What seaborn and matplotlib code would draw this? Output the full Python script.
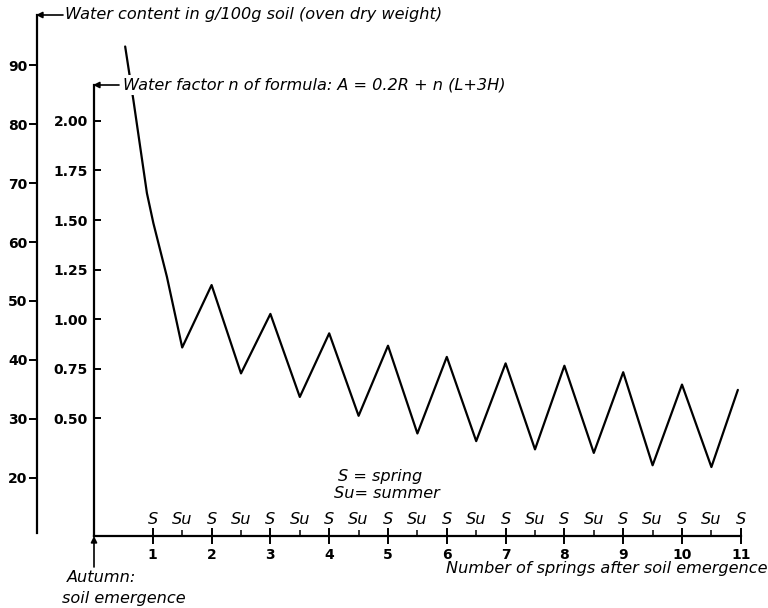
import matplotlib
matplotlib.use("Agg")
import matplotlib.pyplot as plt
import seaborn as sns
import pandas as pd
from matplotlib.transforms import blended_transform_factory

# Water content (g/100 g oven-dry soil) against time in years after soil emergence
season_time = [0.53, 0.67, 0.90, 1.01, 1.24, 1.5, 2.0, 2.5, 3.0, 3.5, 4.0, 4.5,
               5.0, 5.5, 6.0, 6.5, 7.0, 7.5, 8.0, 8.5, 9.0, 9.5, 10.0, 10.5, 10.95]
water_content = [93.2, 84.1, 68.3, 63.2, 54.1, 42.1, 52.7, 37.7, 47.8, 33.7, 44.5, 30.5,
                 42.4, 27.5, 40.5, 26.2, 39.4, 24.8, 39.0, 24.2, 37.9, 22.1, 35.8, 21.8, 34.9]

water_ticks = [20, 30, 40, 50, 60, 70, 80, 90]
factor_ticks = [0.50, 0.75, 1.00, 1.25, 1.50, 1.75, 2.00]
factor_labels = ["0.50", "0.75", "1.00", "1.25", "1.50", "1.75", "2.00"]
spring_ticks = [1, 2, 3, 4, 5, 6, 7, 8, 9, 10, 11]
summer_ticks = [1.5, 2.5, 3.5, 4.5, 5.5, 6.5, 7.5, 8.5, 9.5, 10.5]
season_pos = [1, 1.5, 2, 2.5, 3, 3.5, 4, 4.5, 5, 5.5, 6, 6.5, 7, 7.5, 8, 8.5,
              9, 9.5, 10, 10.5, 11]
season_marks = ["S", "Su"] * 10 + ["S"]

df = pd.DataFrame({"time": season_time, "water": water_content})

sns.set_theme(style="white")
plt.rcParams["font.family"] = ["DejaVu Sans"]

W, H = 768, 608
fig = plt.figure(figsize=(W / 100, H / 100), dpi=100)
fig.patch.set_facecolor("white")


def fx(px):
    return px / W


def fy(py):
    return 1 - py / H


# main axes fill the figure; scales chosen so the axes sit where wanted
x0_px, x_unit = 94.0, 58.8
y_mid_px, y_unit, v_mid = 271.5, 5.89, 55.0


def v_at(py):
    return v_mid - (py - y_mid_px) / y_unit


ax = fig.add_axes([0, 0, 1, 1])
ax.set_facecolor("none")
ax.set_xlim(-x0_px / x_unit, (W - x0_px) / x_unit)
ax.set_ylim(v_at(H), v_at(0))

sns.lineplot(data=df, x="time", y="water", ax=ax, color="black", lw=1.6)
ax.set_xlabel("")
ax.set_ylabel("")

AX_LW = 1.6
for s in ("top", "right"):
    ax.spines[s].set_visible(False)
ax.spines["left"].set_position(("axes", 37 / W))
ax.spines["left"].set_bounds(v_at(533), v_at(15))
ax.spines["bottom"].set_position(("axes", 1 - 536 / H))
ax.spines["bottom"].set_bounds(0, 11)
for s in ("left", "bottom"):
    ax.spines[s].set_linewidth(AX_LW)
    ax.spines[s].set_color("black")

NUM_SIZE = 10
ax.set_yticks(water_ticks)
ax.set_yticklabels([str(v) for v in water_ticks])
ax.tick_params(axis="y", which="major", direction="out", length=5.5, width=1.4,
               pad=1.5, labelsize=NUM_SIZE, colors="black", left=True)
for lab in ax.get_yticklabels():
    lab.set_fontweight("bold")

ax.set_xticks(spring_ticks)
ax.set_xticklabels([str(v) for v in spring_ticks])
ax.set_xticks(summer_ticks, minor=True)
ax.tick_params(axis="x", which="major", direction="inout", length=11, width=1.4,
               pad=3, labelsize=NUM_SIZE, colors="black", bottom=True)
ax.tick_params(axis="x", which="minor", direction="in", length=4, width=1.1,
               colors="black", bottom=True)
for lab in ax.get_xticklabels():
    lab.set_fontweight("bold")

# second ordinate: water factor n
axn = ax.twinx()
axn.set_ylim(1.25 - (H - 269.6) / 198.4, 1.25 + 269.6 / 198.4)
for s in ("top", "right", "bottom"):
    axn.spines[s].set_visible(False)
axn.spines["left"].set_visible(True)
axn.spines["left"].set_position(("axes", 93.5 / W))
axn.spines["left"].set_bounds(1.25 - (536 - 269.6) / 198.4, 1.25 + (269.6 - 85) / 198.4)
axn.spines["left"].set_linewidth(AX_LW)
axn.spines["left"].set_color("black")
axn.yaxis.set_ticks_position("left")
axn.yaxis.set_label_position("left")
axn.set_yticks(factor_ticks)
axn.set_yticklabels(factor_labels)
axn.tick_params(axis="y", which="major", direction="in", length=5, width=1.4,
                pad=4, labelsize=NUM_SIZE, colors="black", left=True, right=False)
for lab in axn.get_yticklabels():
    lab.set_fontweight("bold")

TXT = dict(style="italic", fontsize=11.6, color="black")

# season letters above the time axis
tr = blended_transform_factory(ax.transData, fig.transFigure)
for pos, mark in zip(season_pos, season_marks):
    ax.text(pos, fy(519), mark, transform=tr, ha="center", va="center",
            fontsize=11.6, style="italic", color="black")

arrow = dict(arrowstyle="-|>", color="black", lw=1.2, mutation_scale=9,
             shrinkA=0, shrinkB=0)
ax.annotate("", xy=(fx(36), fy(15)), xytext=(fx(63), fy(15)),
            xycoords="figure fraction", textcoords="figure fraction", arrowprops=arrow)
fig.text(fx(65), fy(15), "Water content in g/100g soil (oven dry weight)",
         ha="left", va="center", **TXT)

ax.annotate("", xy=(fx(93), fy(85)), xytext=(fx(119), fy(85)),
            xycoords="figure fraction", textcoords="figure fraction", arrowprops=arrow)
fig.text(fx(123), fy(85), "Water factor n of formula: A = 0.2R + n (L+3H)",
         ha="left", va="center", zorder=5,
         bbox=dict(facecolor="white", edgecolor="none", pad=2.0), **TXT)

fig.text(fx(338), fy(477), "S = spring", ha="left", va="center", **TXT)
fig.text(fx(334), fy(494), "Su= summer", ha="left", va="center", **TXT)

fig.text(fx(767), fy(568), "Number of springs after soil emergence",
         ha="right", va="center", **TXT)

ax.annotate("", xy=(fx(94), fy(536)), xytext=(fx(94), fy(567)),
            xycoords="figure fraction", textcoords="figure fraction", arrowprops=arrow)
fig.text(fx(67), fy(578), "Autumn:", ha="left", va="center", **TXT)
fig.text(fx(62), fy(598), "soil emergence", ha="left", va="center", **TXT)

fig.savefig("out.png", dpi=100, facecolor="white")
